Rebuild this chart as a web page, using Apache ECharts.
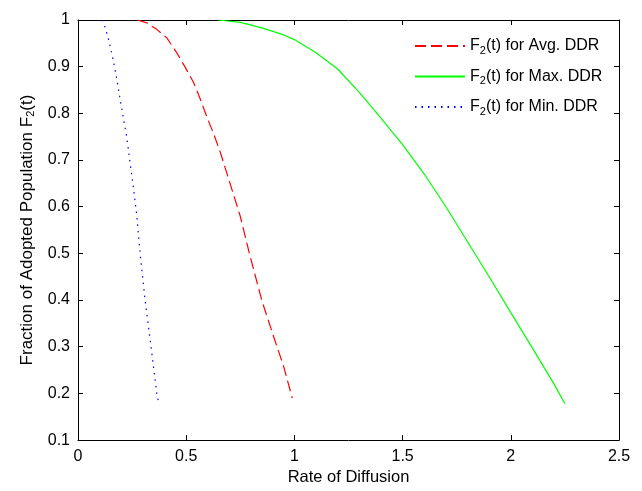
<!DOCTYPE html>
<html>
<head>
<meta charset="utf-8">
<script src="https://cdn.jsdelivr.net/npm/echarts@6/dist/echarts.min.js"></script>
<style>html,body{margin:0;padding:0;background:#fff}#c{width:642px;height:491px}</style>
</head>
<body>
<div id="c"></div>
<script>
// ---- data ----
const xTicks = [0, 0.5, 1, 1.5, 2, 2.5];
const yTicks = [0.1, 0.2, 0.3, 0.4, 0.5, 0.6, 0.7, 0.8, 0.9, 1];
const xTickLabels = ['0', '0.5', '1', '1.5', '2', '2.5'];
const yTickLabels = ['0.1', '0.2', '0.3', '0.4', '0.5', '0.6', '0.7', '0.8', '0.9', '1'];

const seriesNames = ['F{s|2}(t) for Avg. DDR', 'F{s|2}(t) for Max. DDR', 'F{s|2}(t) for Min. DDR'];

const avgX = [0.274, 0.318, 0.364, 0.41, 0.456, 0.495, 0.533, 0.564, 0.595, 0.626, 0.656, 0.687, 0.718, 0.749, 0.775, 0.792, 0.849, 0.903, 0.949, 0.99];
const avgY = [1.0, 0.994, 0.98, 0.962, 0.93, 0.899, 0.867, 0.832, 0.793, 0.757, 0.719, 0.673, 0.627, 0.581, 0.532, 0.5, 0.4, 0.323, 0.26, 0.19];

const maxX = [0.649, 0.75, 0.85, 0.95, 1.0, 1.1, 1.2, 1.3, 1.4, 1.5, 1.6, 1.7, 1.8, 1.9, 2.0, 2.1, 2.2, 2.25];
const maxY = [1.0, 0.995, 0.983, 0.968, 0.958, 0.93, 0.895, 0.845, 0.79, 0.733, 0.67, 0.6, 0.525, 0.45, 0.373, 0.297, 0.22, 0.178];

const minX = [0.11, 0.125, 0.143, 0.163, 0.179, 0.194, 0.21, 0.225, 0.24, 0.256, 0.271, 0.287, 0.31, 0.3375, 0.364, 0.374];
const minY = [1.0, 0.985, 0.955, 0.913, 0.874, 0.832, 0.789, 0.75, 0.697, 0.641, 0.584, 0.5, 0.4, 0.3, 0.2, 0.177];

// ---- chart ----
const FONT = '"Liberation Sans", Arial, sans-serif';
const pair = (xs, ys) => xs.map((x, i) => [x, ys[i]]);
const lbl = (ticks, labels) => v => {
  const i = ticks.findIndex(t => Math.abs(t - v) < 1e-9);
  return i >= 0 ? labels[i] : '';
};
const richSub = {
  s: { fontSize: 11, fontFamily: FONT, color: '#000', padding: [9, 0, 0, 0], verticalAlign: 'bottom' }
};
const axisCommon = {
  type: 'value',
  axisLine: { show: true, onZero: false, lineStyle: { color: '#000', width: 1 } },
  axisTick: { show: true, inside: true, length: 5, lineStyle: { color: '#000' } },
  splitLine: { show: false }
};

const chart = echarts.init(document.getElementById('c'), null, { renderer: 'canvas' });
chart.setOption({
  animation: false,
  backgroundColor: '#fff',
  grid: { left: 78, right: 23, top: 20, bottom: 46, containLabel: false },
  legend: {
    orient: 'vertical',
    left: 414, top: 38,
    padding: 0,
    itemWidth: 50, itemHeight: 12, itemGap: 12.5,
    itemStyle: { color: 'rgba(0,0,0,0)', borderColor: 'rgba(0,0,0,0)', borderWidth: 0, opacity: 0 },
    textStyle: { fontFamily: FONT, fontSize: 16, color: '#000', rich: richSub },
    data: seriesNames
  },
  xAxis: [
    Object.assign({}, axisCommon, {
      position: 'bottom',
      min: xTicks[0], max: xTicks[xTicks.length - 1], interval: xTicks[1] - xTicks[0],
      axisLabel: { margin: 8, fontFamily: FONT, fontSize: 16, color: '#000', formatter: lbl(xTicks, xTickLabels) },
      name: 'Rate of Diffusion', nameLocation: 'middle', nameGap: 27,
      nameTextStyle: { fontFamily: FONT, fontSize: 16.5, color: '#000' }
    }),
    Object.assign({}, axisCommon, {
      position: 'top',
      min: xTicks[0], max: xTicks[xTicks.length - 1], interval: xTicks[1] - xTicks[0],
      axisLabel: { show: false }
    })
  ],
  yAxis: [
    Object.assign({}, axisCommon, {
      position: 'left',
      min: yTicks[0], max: yTicks[yTicks.length - 1], interval: 0.1,
      axisLabel: { margin: 8, fontFamily: FONT, fontSize: 16, color: '#000', formatter: lbl(yTicks, yTickLabels) },
      name: 'Fraction of Adopted Population F{s|2}(t)', nameLocation: 'middle', nameGap: 38,
      nameTextStyle: { fontFamily: FONT, fontSize: 17, color: '#000', rich: richSub }
    }),
    Object.assign({}, axisCommon, {
      position: 'right',
      min: yTicks[0], max: yTicks[yTicks.length - 1], interval: 0.1,
      axisLabel: { show: false }
    })
  ],
  series: [
    { name: seriesNames[0], type: 'line', symbol: 'none', data: pair(avgX, avgY),
      lineStyle: { color: '#ff0000', width: 1.2, type: [11, 5] }, itemStyle: { color: '#ff0000' } },
    { name: seriesNames[1], type: 'line', symbol: 'none', data: pair(maxX, maxY),
      lineStyle: { color: '#00ff00', width: 1.2, type: 'solid' }, itemStyle: { color: '#00ff00' } },
    { name: seriesNames[2], type: 'line', symbol: 'none', data: pair(minX, minY),
      lineStyle: { color: '#0000ff', width: 1.2, type: [1.5, 5] }, itemStyle: { color: '#0000ff' } }
  ]
});
</script>
</body>
</html>
